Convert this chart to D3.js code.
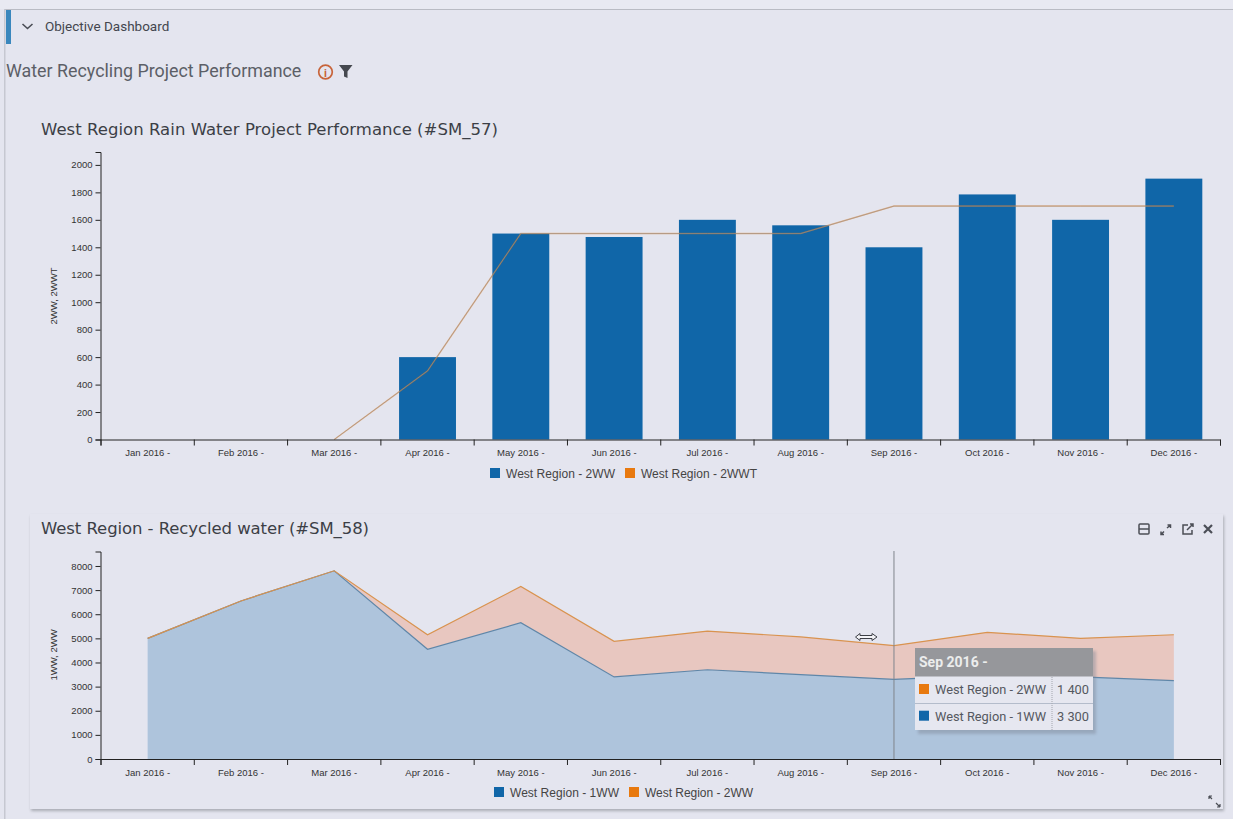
<!DOCTYPE html>
<html>
<head>
<meta charset="utf-8">
<title>Water Recycling Project Performance</title>
<script src="https://cdn.jsdelivr.net/npm/d3@7"></script>
<style>
html, body { margin: 0; padding: 0; background: #e4e5ef; overflow: hidden; }
svg { display: block; }
.tick text { font-family: "Liberation Sans", sans-serif; font-size: 9.5px; fill: #333; }
.axis path, .axis line { stroke: #222; }
.chartTitle { font-family: "DejaVu Sans", sans-serif; font-size: 16.5px; fill: #3c3f46; }
.legend { font-family: "Liberation Sans", sans-serif; font-size: 12px; fill: #444; }
.yLabel { font-family: "Liberation Sans", sans-serif; font-size: 9.5px; fill: #333; }
</style>
</head>
<body>
<script>
var months = ["Jan 2016 -", "Feb 2016 -", "Mar 2016 -", "Apr 2016 -", "May 2016 -", "Jun 2016 -",
    "Jul 2016 -", "Aug 2016 -", "Sep 2016 -", "Oct 2016 -", "Nov 2016 -", "Dec 2016 -"];
var ww2 = [0, 0, 0, 600, 1500, 1475, 1600, 1560, 1400, 1785, 1600, 1900];
var wwt2 = [null, null, 0, 500, 1500, 1500, 1500, 1500, 1700, 1700, 1700, 1700];
var ww1 = [5000, 6550, 7800, 4550, 5650, 3400, 3700, 3500, 3300, 3465, 3400, 3250];

var ticksTop = [0, 200, 400, 600, 800, 1000, 1200, 1400, 1600, 1800, 2000];
var ticksBottom = [0, 1000, 2000, 3000, 4000, 5000, 6000, 7000, 8000];

var hoverIndex = 8;
var colorBlue = "#1066a8";
var colorOrange = "#e8790f";

var svg = d3.select("body").append("svg").attr("width", 1233).attr("height", 819);
var defs = svg.append("defs");
var blur = defs.append("filter").attr("id", "shadow").attr("x", "-5%").attr("y", "-5%").attr("width", "110%").attr("height", "110%");
blur.append("feGaussianBlur").attr("stdDeviation", 1.5);

// page chrome
svg.append("rect").attr("x", 0).attr("y", 0).attr("width", 1233).attr("height", 9).attr("fill", "#e8e9f2");
svg.append("rect").attr("x", 5).attr("y", 9).attr("width", 1228).attr("height", 1).attr("fill", "#b9bbc4");
svg.append("rect").attr("x", 4).attr("y", 9).attr("width", 1.5).attr("height", 810).attr("fill", "#c6c8d1");
svg.append("rect").attr("x", 6).attr("y", 10).attr("width", 5).attr("height", 34).attr("fill", "#3a87bd");
svg.append("path").attr("d", "M22.5 24 L27.5 28.5 L32.5 24").attr("fill", "none").attr("stroke", "#4a4d55").attr("stroke-width", 1.6);
svg.append("text").attr("x", 45).attr("y", 31).attr("font-family", "Roboto, sans-serif").attr("font-size", 13.5)
    .attr("fill", "#43464e").text("Objective Dashboard");
svg.append("text").attr("x", 6).attr("y", 77).attr("font-family", "Roboto, sans-serif").attr("font-size", 17.85)
    .attr("fill", "#5c5f67").text("Water Recycling Project Performance");

// info + filter icons
svg.append("circle").attr("cx", 325.5).attr("cy", 72).attr("r", 6.8).attr("fill", "none").attr("stroke", "#c8643a").attr("stroke-width", 1.7);
svg.append("text").attr("x", 325.5).attr("y", 76.5).attr("text-anchor", "middle").attr("font-family", "Roboto, sans-serif")
    .attr("font-size", 11).attr("font-weight", 700).attr("fill", "#c8643a").text("i");
svg.append("path").attr("d", "M339 65 H352.5 L347.5 71.5 V78 L344 76.5 V71.5 Z").attr("fill", "#45484f");

// lower panel
svg.append("rect").attr("x", 31).attr("y", 516).attr("width", 1193).attr("height", 295).attr("fill", "#a9abb4").attr("filter", "url(#shadow)");
svg.append("rect").attr("x", 30).attr("y", 514).attr("width", 1193).attr("height", 295).attr("fill", "#e4e5ef");

function bottomAxes(g, height, band) {
    var boundary = d3.scaleLinear().domain([0, months.length]).range([plotLeft, plotRight]);
    g.append("g").attr("class", "axis")
        .attr("transform", "translate(0," + height + ")")
        .call(d3.axisBottom(boundary).tickValues(d3.range(months.length + 1)).tickFormat("").tickSize(6).tickSizeOuter(6));
    var labels = g.append("g").attr("class", "axis")
        .attr("transform", "translate(0," + height + ")")
        .call(d3.axisBottom(band).tickSize(0).tickPadding(10));
    labels.select(".domain").remove();
}

function legend(g, y, items) {
    items.forEach(function(d) {
        g.append("rect").attr("x", d.x).attr("y", y).attr("width", 10).attr("height", 10).attr("fill", d.color);
        g.append("text").attr("class", "legend").attr("x", d.x + 16).attr("y", y + 9.5).attr("textLength", d.w).text(d.name);
    });
}

// ---------- top chart
var plotLeft = 100.5, plotRight = 1220;
var top1 = 152, bottom1 = 439.5;
var g1 = svg.append("g");
g1.append("text").attr("class", "chartTitle").attr("x", 41).attr("y", 135).attr("textLength", 457)
    .text("West Region Rain Water Project Performance (#SM_57)");

var x1 = d3.scaleBand().domain(months).range([plotLeft + 0.5, plotRight + 0.5]).paddingInner(0.39).paddingOuter(0.195);
var y1 = d3.scaleLinear().domain([0, 2094]).range([bottom1, top1]);

g1.selectAll(".bar").data(months).enter().append("rect")
    .attr("class", "bar")
    .attr("x", function(d) { return x1(d); })
    .attr("width", x1.bandwidth())
    .attr("y", function(d, i) { return y1(ww2[i]); })
    .attr("height", function(d, i) { return bottom1 - y1(ww2[i]); })
    .attr("fill", colorBlue);

var targetLine = d3.line()
    .defined(function(d) { return d !== null; })
    .x(function(d, i) { return x1(months[i]) + x1.bandwidth() / 2; })
    .y(function(d) { return y1(d); });
g1.append("path").datum(wwt2).attr("d", targetLine).attr("fill", "none").attr("stroke", colorOrange)
    .attr("stroke-opacity", 0.4).attr("stroke-width", 1.5);
g1.append("path").datum(wwt2).attr("d", targetLine).attr("fill", "none").attr("stroke", "#a08c7c")
    .attr("stroke-opacity", 0.7).attr("stroke-width", 1);

g1.append("g").attr("class", "axis").attr("transform", "translate(" + plotLeft + ",0)")
    .call(d3.axisLeft(y1).tickValues(ticksTop).tickFormat(d3.format("d")).tickSize(5).tickSizeOuter(5));
bottomAxes(g1, bottom1, x1);
g1.append("text").attr("class", "yLabel").attr("text-anchor", "middle")
    .attr("transform", "translate(57,296) rotate(-90)").text("2WW, 2WWT");
legend(g1, 468, [
    {name: "West Region - 2WW", color: colorBlue, x: 490, w: 109},
    {name: "West Region - 2WWT", color: colorOrange, x: 625, w: 116}
]);

// ---------- bottom chart
var top2 = 551.5, bottom2 = 759;
var g2 = svg.append("g");
g2.append("text").attr("class", "chartTitle").attr("x", 41).attr("y", 534).attr("textLength", 328)
    .text("West Region - Recycled water (#SM_58)");

var x2 = d3.scaleBand().domain(months).range([plotLeft + 0.5, plotRight + 0.5]);
var y2 = d3.scaleLinear().domain([0, 8600]).range([bottom2, top2]);
var rows = months.map(function(m, i) { return {month: m, ww1: ww1[i], ww2: ww2[i]}; });
var stacked = d3.stack().keys(["ww1", "ww2"])(rows);

var area = d3.area()
    .x(function(d) { return x2(d.data.month) + x2.bandwidth() / 2; })
    .y0(function(d) { return y2(d[0]); })
    .y1(function(d) { return y2(d[1]); });
var topEdge = d3.line()
    .x(function(d) { return x2(d.data.month) + x2.bandwidth() / 2; })
    .y(function(d) { return y2(d[1]); });

var fills = ["#aec4dc", "#e8c7c0"];
var strokes = ["#5f86a8", "#d9934f"];
stacked.forEach(function(s, i) {
    g2.append("path").datum(s).attr("d", area).attr("fill", fills[i]);
});
stacked.forEach(function(s, i) {
    g2.append("path").datum(s).attr("d", topEdge).attr("fill", "none").attr("stroke", strokes[i]).attr("stroke-width", 1.2);
});

g2.append("g").attr("class", "axis").attr("transform", "translate(" + plotLeft + ",0)")
    .call(d3.axisLeft(y2).tickValues(ticksBottom).tickFormat(d3.format("d")).tickSize(5).tickSizeOuter(5));
bottomAxes(g2, bottom2, x2);
g2.append("text").attr("class", "yLabel").attr("text-anchor", "middle")
    .attr("transform", "translate(57,655) rotate(-90)").text("1WW, 2WW");
legend(g2, 787, [
    {name: "West Region - 1WW", color: colorBlue, x: 494, w: 109},
    {name: "West Region - 2WW", color: colorOrange, x: 629, w: 108}
]);

// crosshair at hovered month
var hoverX = x2(months[hoverIndex]) + x2.bandwidth() / 2;
g2.append("line").attr("x1", hoverX).attr("x2", hoverX).attr("y1", 551).attr("y2", bottom2)
    .attr("stroke", "#7f858c").attr("stroke-width", 1);

// resize cursor
svg.append("path").attr("d", "M855.5 637 L860 633.5 V635.5 H872 V633.5 L877 637 L872 640.5 V638.5 H860 V640.5 Z")
    .attr("fill", "#f4f4f8").attr("stroke", "#3c3f46").attr("stroke-width", 1);

// tooltip
var fmt = d3.formatLocale({decimal: ".", thousands: " ", grouping: [3], currency: ["", ""]}).format(",");
var tip = svg.append("g").attr("transform", "translate(915,648)");
tip.append("rect").attr("x", 3).attr("y", 3).attr("width", 178).attr("height", 83).attr("fill", "#7d8595").attr("opacity", 0.45).attr("filter", "url(#shadow)");
tip.append("rect").attr("width", 178).attr("height", 82).attr("fill", "#e6e7f0");
tip.append("rect").attr("width", 178).attr("height", 28.5).attr("fill", "#96979b");
tip.append("text").attr("x", 4).attr("y", 19).attr("font-family", "Roboto, sans-serif").attr("font-size", 14).attr("font-weight", 700)
    .attr("fill", "#eceded").text(months[hoverIndex]);
tip.append("line").attr("x1", 0).attr("x2", 178).attr("y1", 55.5).attr("y2", 55.5).attr("stroke", "#b4bccb");
tip.append("line").attr("x1", 137).attr("x2", 137).attr("y1", 29).attr("y2", 82).attr("stroke", "#a3a6ae").attr("stroke-dasharray", "1,1");
[
    {name: "West Region - 2WW", color: colorOrange, value: ww2[hoverIndex]},
    {name: "West Region - 1WW", color: colorBlue, value: ww1[hoverIndex]}
].forEach(function(d, i) {
    var rowY = 36 + i * 26.7;
    tip.append("rect").attr("x", 4).attr("y", rowY).attr("width", 10).attr("height", 10).attr("fill", d.color);
    tip.append("text").attr("x", 20).attr("y", rowY + 10).attr("font-family", "Roboto, sans-serif").attr("font-size", 12.8)
        .attr("fill", "#55585f").text(d.name);
    tip.append("text").attr("x", 174).attr("y", rowY + 10).attr("text-anchor", "end").attr("font-family", "Roboto, sans-serif").attr("font-size", 12.8)
        .attr("fill", "#55585f").text(fmt(d.value));
});

// panel toolbar icons
var iconColor = "#4b4e56";
var tools = svg.append("g").attr("fill", "none").attr("stroke", iconColor).attr("stroke-width", 1.5);
tools.append("rect").attr("x", 1139).attr("y", 524).attr("width", 10).attr("height", 10).attr("rx", 1);
tools.append("line").attr("x1", 1139).attr("x2", 1149).attr("y1", 529).attr("y2", 529);
tools.append("path").attr("d", "M1161 534.5 L1164 531.5 M1161 531.5 V534.5 H1164 M1167 528 L1170.5 525 M1167.5 525 H1170.5 V528");
tools.append("path").attr("d", "M1188 525 H1183 V534 H1192 V530 M1187 530 L1193 524 M1190 524 H1193 V527");
tools.append("path").attr("d", "M1204 525 L1212 533 M1212 525 L1204 533").attr("stroke-width", 2.2);
tools.append("path").attr("d", "M1209 796 L1212 799 M1209 796 H1212 M1209 796 V799 M1216 803 L1220 807 M1220 807 H1217 M1220 807 V804").attr("stroke-width", 1.2);
</script>
</body>
</html>
